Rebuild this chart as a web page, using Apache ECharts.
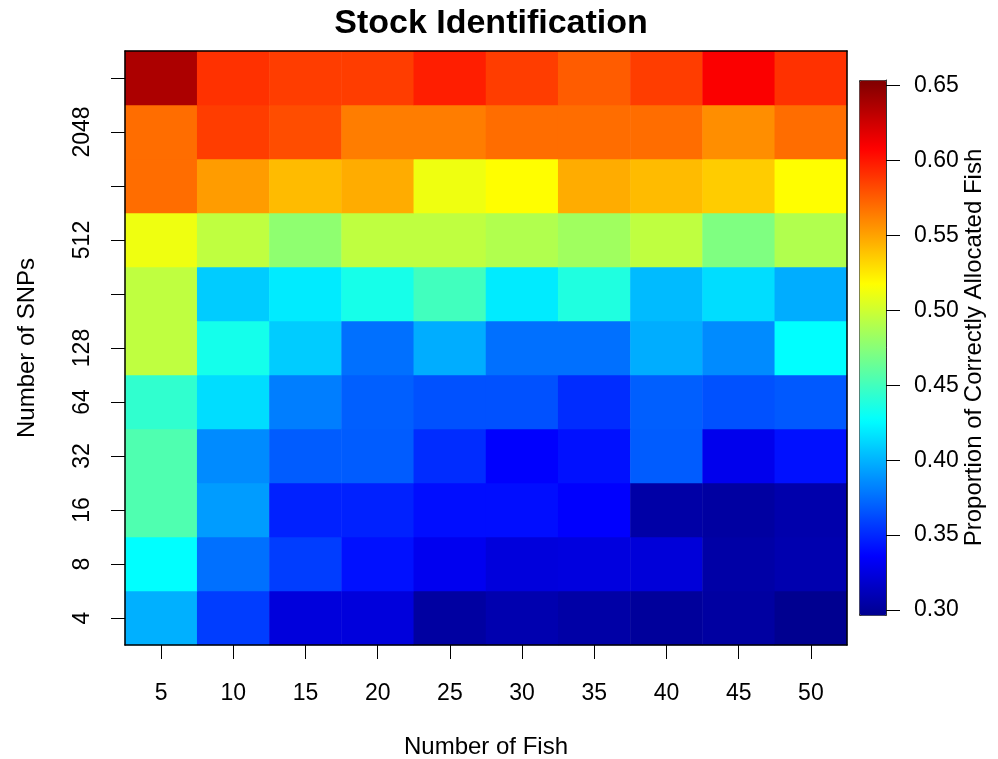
<!DOCTYPE html>
<html><head><meta charset="utf-8">
<script src="https://cdn.jsdelivr.net/npm/echarts@6/dist/echarts.min.js"></script>
<style>html,body{margin:0;padding:0;background:#fff}#c{width:998px;height:759px}</style>
</head><body><div id="c"></div>
<script>
// ---- data ----
const fishCounts = [5, 10, 15, 20, 25, 30, 35, 40, 45, 50];
const snpCounts = [4, 8, 16, 32, 64, 128, 256, 512, 1024, 2048, 4096];
const snpTickLabels = ['4', '8', '16', '32', '64', '128', '', '512', '', '2048', ''];
const colorbarTicks = [0.30, 0.35, 0.40, 0.45, 0.50, 0.55, 0.60, 0.65];
const colorRange = [0.2967, 0.6538];

// proportion of correctly allocated fish, one array per SNP count (columns = fishCounts)
const snp4    = [0.399, 0.358, 0.324, 0.324, 0.303, 0.308, 0.305, 0.301, 0.303, 0.297];
const snp8    = [0.427, 0.376, 0.358, 0.342, 0.331, 0.324, 0.325, 0.323, 0.305, 0.308];
const snp16   = [0.455, 0.392, 0.348, 0.348, 0.341, 0.341, 0.336, 0.305, 0.303, 0.307];
const snp32   = [0.455, 0.386, 0.369, 0.369, 0.352, 0.336, 0.342, 0.369, 0.330, 0.342];
const snp64   = [0.444, 0.415, 0.381, 0.370, 0.365, 0.365, 0.352, 0.370, 0.365, 0.368];
const snp128  = [0.495, 0.434, 0.409, 0.376, 0.398, 0.376, 0.376, 0.398, 0.386, 0.427];
const snp256  = [0.495, 0.409, 0.420, 0.435, 0.450, 0.420, 0.438, 0.403, 0.415, 0.398];
const snp512  = [0.512, 0.495, 0.478, 0.495, 0.495, 0.490, 0.484, 0.495, 0.472, 0.490];
const snp1024 = [0.570, 0.553, 0.542, 0.547, 0.512, 0.518, 0.547, 0.542, 0.536, 0.518];
const snp2048 = [0.570, 0.587, 0.581, 0.564, 0.564, 0.570, 0.570, 0.570, 0.558, 0.570];
const snp4096 = [0.638, 0.591, 0.587, 0.587, 0.598, 0.587, 0.576, 0.587, 0.610, 0.591];
const rowsBySnp = [snp4, snp8, snp16, snp32, snp64, snp128, snp256, snp512, snp1024, snp2048, snp4096];

// ---- jet palette (64 colours, MATLAB style) ----
function jetPalette(m) {
  const n = m / 4, out = [];
  const toHex = v => Math.round(Math.max(0, Math.min(1, v)) * 255).toString(16).padStart(2, '0');
  for (let i = 1; i <= m; i++) {
    let r, g, b;
    if (i <= 24) r = 0; else if (i <= 40) r = (i - 24) / n; else if (i <= 56) r = 1; else r = 1 - (i - 56) / n;
    if (i <= 8) g = 0; else if (i <= 24) g = (i - 8) / n; else if (i <= 40) g = 1; else if (i <= 56) g = (56 - i) / n; else g = 0;
    if (i <= 8) b = (i + 8) / n; else if (i <= 24) b = 1; else if (i <= 40) b = (40 - i) / n; else b = 0;
    out.push('#' + toHex(r) + toHex(g) + toHex(b));
  }
  return out;
}
const jet64 = jetPalette(64);

const heatData = [];
rowsBySnp.forEach((row, yi) => row.forEach((v, xi) => heatData.push([xi, yi, v])));

const FONT = 'Liberation Sans, Arial, Helvetica, sans-serif';
const TICK_FS = 23;
const chart = echarts.init(document.getElementById('c'), null, { renderer: 'canvas' });
const axisLine = { show: true, onZero: false, lineStyle: { color: '#000', width: 1.5 } };
const tickStyle = { color: '#000', width: 1 };
chart.setOption({
  animation: false,
  backgroundColor: '#fff',
  textStyle: { fontFamily: FONT, color: '#000' },
  title: {
    text: 'Stock Identification', left: 486, top: 2, textAlign: 'center',
    textStyle: { fontSize: 34, fontWeight: 'bold', color: '#000', fontFamily: FONT }
  },
  grid: [
    { left: 125, top: 51, width: 722, height: 594, containLabel: false, outerBoundsMode: 'none' },
    { left: 859, top: 80, width: 27, height: 535, containLabel: false, outerBoundsMode: 'none' }
  ],
  xAxis: [
    {
      type: 'category', gridIndex: 0, data: fishCounts.map(String), position: 'bottom', z: 10,
      axisLine: axisLine,
      axisTick: { show: true, inside: false, alignWithLabel: true, interval: 0, length: 14, lineStyle: tickStyle },
      axisLabel: { show: true, interval: 0, fontSize: TICK_FS, color: '#000', margin: 37, fontFamily: FONT },
      splitLine: { show: false },
      name: 'Number of Fish', nameLocation: 'middle', nameGap: 90,
      nameTextStyle: { fontSize: 24, color: '#000', fontFamily: FONT }
    },
    {
      type: 'category', gridIndex: 0, data: fishCounts.map(String), position: 'top', z: 10,
      axisLine: axisLine, axisTick: { show: false }, axisLabel: { show: false }, splitLine: { show: false }
    },
    { type: 'value', gridIndex: 1, show: false, min: 0, max: 1, axisLine: { onZero: false } }
  ],
  yAxis: [
    {
      type: 'category', gridIndex: 0, data: snpCounts.map(String), position: 'left', z: 10,
      axisLine: axisLine,
      axisTick: { show: true, inside: false, alignWithLabel: true, length: 14, interval: 0, lineStyle: tickStyle },
      axisLabel: {
        show: true, interval: 0, rotate: 90, fontSize: TICK_FS, color: '#000', margin: 31, fontFamily: FONT,
        formatter: (v, i) => snpTickLabels[i]
      },
      splitLine: { show: false },
      name: 'Number of SNPs', nameLocation: 'middle', nameGap: 86,
      nameTextStyle: { fontSize: 24, color: '#000', fontFamily: FONT }
    },
    {
      type: 'category', gridIndex: 0, data: snpCounts.map(String), position: 'right', z: 10,
      axisLine: axisLine, axisTick: { show: false }, axisLabel: { show: false }, splitLine: { show: false }
    },
    {
      type: 'value', gridIndex: 1, position: 'right', min: colorRange[0], max: colorRange[1], z: 10,
      axisLine: { show: true, onZero: false, lineStyle: { color: '#333', width: 1 } },
      axisTick: { show: true, inside: false, length: 14, customValues: colorbarTicks, lineStyle: tickStyle },
      axisLabel: { show: true, customValues: colorbarTicks, formatter: v => v.toFixed(2), fontSize: TICK_FS, color: '#000', margin: 28, fontFamily: FONT },
      splitLine: { show: false },
      name: 'Proportion of Correctly Allocated Fish', nameLocation: 'middle', nameGap: 72,
      nameTextStyle: { fontSize: 24, color: '#000', fontFamily: FONT }
    }
  ],
  visualMap: {
    type: 'continuous', min: colorRange[0], max: colorRange[1], seriesIndex: 0,
    calculable: false, orient: 'vertical', left: 859, top: 80, itemWidth: 27, itemHeight: 535,
    padding: 0, inRange: { color: jet64 }, hoverLink: false,
    borderColor: '#333', borderWidth: 1
  },
  series: [{
    type: 'heatmap', xAxisIndex: 0, yAxisIndex: 0, data: heatData,
    itemStyle: { borderWidth: 0 }, emphasis: { disabled: true }, progressive: 0
  }]
});
</script></body></html>
